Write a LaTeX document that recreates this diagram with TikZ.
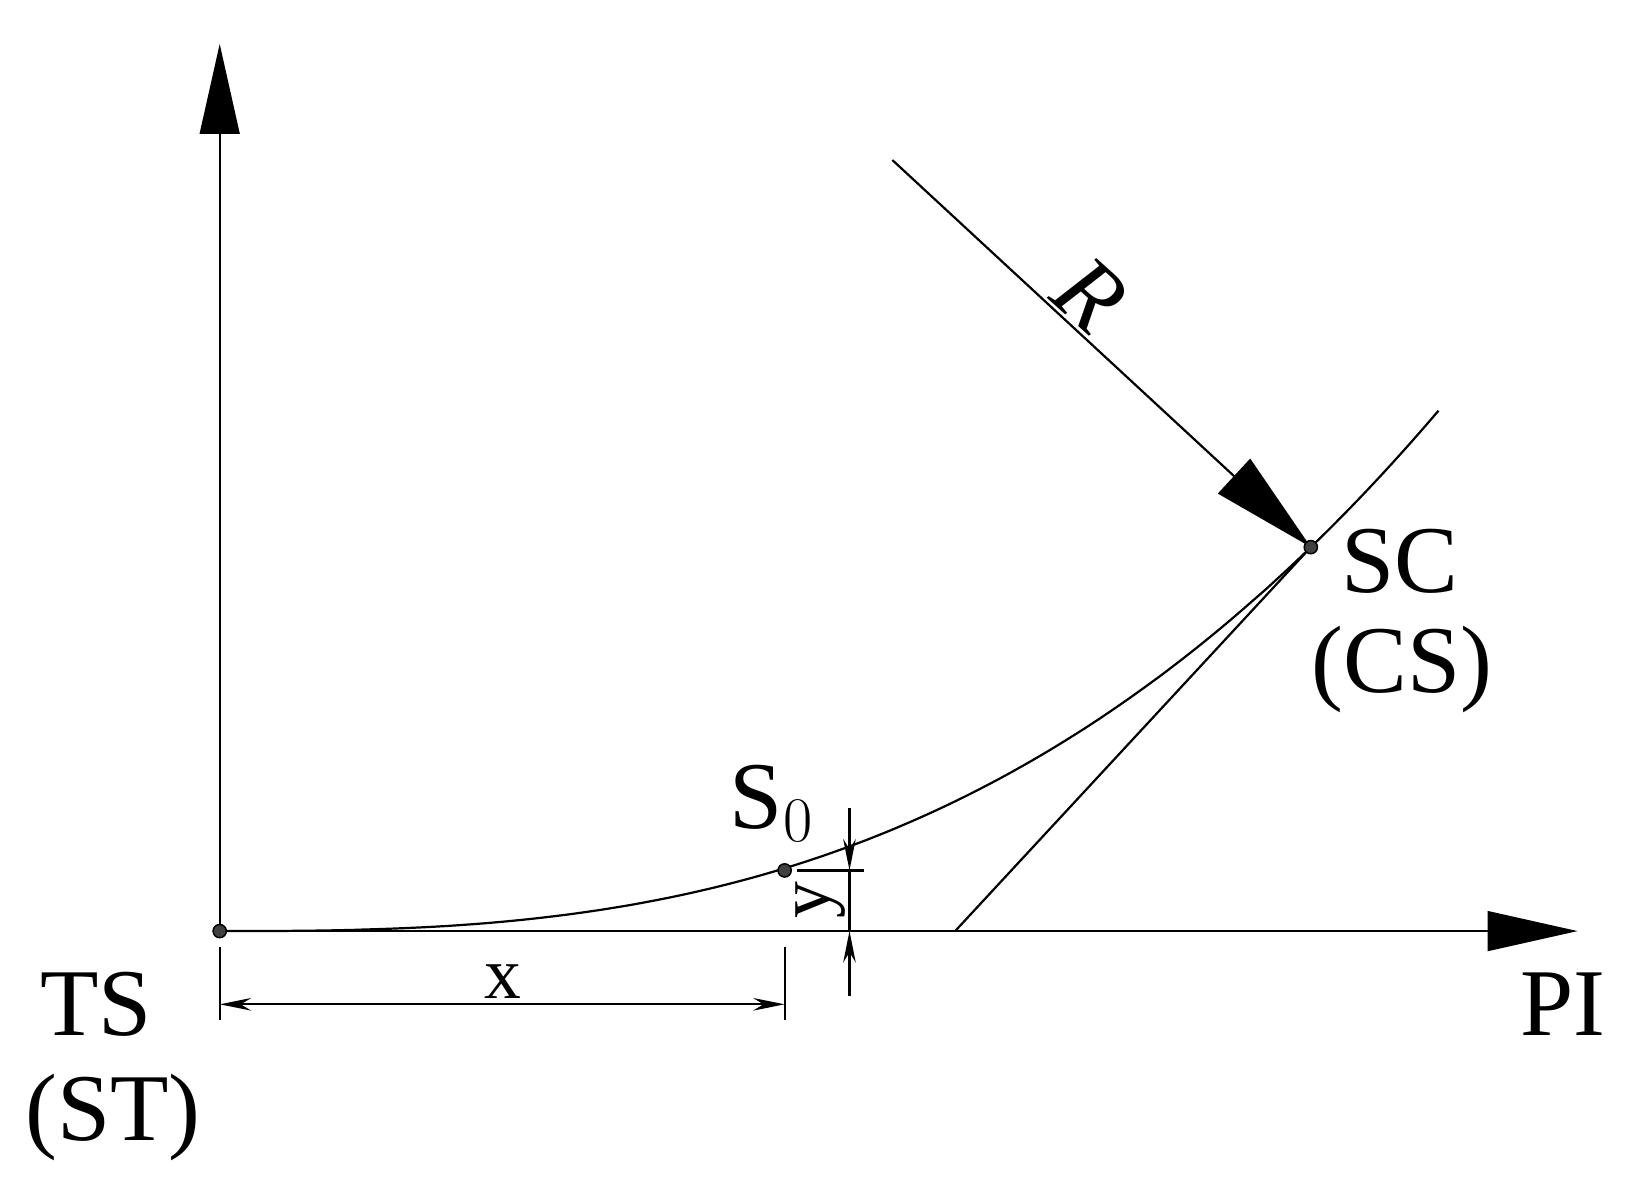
\documentclass[tikz,border=0pt]{standalone}
\usepackage{fontspec}
\setmainfont{Liberation Serif}
\usetikzlibrary{arrows.meta}
\begin{document}
\begin{tikzpicture}[x=0.01cm,y=-0.01cm,
  thin/.style={line width=0.6pt},
  big/.style={font=\fontsize{26}{30}\selectfont},
  dot/.style={circle,fill=black!75,draw=black,line width=0.4pt,inner sep=0pt,minimum size=3.6pt},
  bigtip/.style={-{Triangle[length=0.86cm,width=0.38cm]}},
  dimtip/.style={{Stealth[length=0.3cm,width=0.12cm]}-{Stealth[length=0.3cm,width=0.12cm]}}]
\useasboundingbox (0,0) rectangle (1560,1127);
\coordinate (O) at (210,890);
\coordinate (Ytop) at (210,42);
\coordinate (Xend) at (1508,890);
\coordinate (T0) at (913,890);
\coordinate (Rs) at (853,153);
\draw[thin,bigtip] (O) -- (Ytop);
\draw[thin,bigtip] (O) -- (Xend);
\draw[thin] plot[domain=0:1165,samples=120,smooth] ({210+\x},{890-367*pow(\x/1043,2.75)});
\draw[thin] (T0) -- (1253,523);
\draw[thin,-{Triangle[length=1.0cm,width=0.45cm]}] (Rs) -- (1253,523);
\node[dot] (TS) at (O) {};
\node[dot] (S0) at (750,832) {};
\node[dot] (SC) at (1253,523) {};
\node[big,rotate=-42] (R) at (1042,282) {\textit{R}};
% x dimension
\coordinate (xa) at (210,905); \coordinate (xb) at (210,975);
\coordinate (xc) at (750,905); \coordinate (xd) at (750,975);
\draw[thin] (xa) -- (xb); \draw[thin] (xc) -- (xd);
\coordinate (d1) at (210,960); \coordinate (d2) at (750,960);
\draw[thin,dimtip] (d1) -- (d2);
\node[font=\fontsize{20}{24}\selectfont] (xl) at (481,938) {x};
% y dimension
\coordinate (ya) at (812,772); \coordinate (yb) at (812,832);
\coordinate (yc) at (812,952); \coordinate (yd) at (812,890);
\draw[thin,-{Stealth[length=0.3cm,width=0.12cm]}] (ya) -- (yb);
\draw[thin,-{Stealth[length=0.3cm,width=0.12cm]}] (yc) -- (yd);
\draw[thin] (yb) -- (yd);
\coordinate (e1) at (762,832); \coordinate (e2) at (826,832);
\draw[thin] (e1) -- (e2);
\node[font=\fontsize{20}{24}\selectfont,rotate=90] (yl) at (784,860) {y};
% labels
\node[big] (S0l) at (738,768) {S$_0$};
\node[big] (SCl) at (1338,537) {SC};
\node[big] (CSl) at (1340,640) {(CS)};
\node[big] (TSl) at (92,960) {TS};
\node[big] (STl) at (108,1068) {(ST)};
\node[big] (PIl) at (1494,960) {PI};
\end{tikzpicture}
\end{document}
